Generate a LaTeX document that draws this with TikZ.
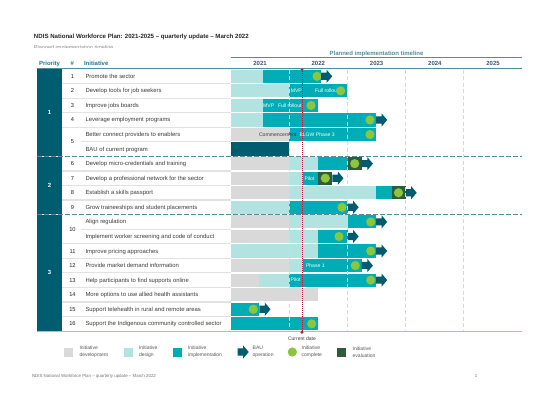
\documentclass[tikz,border=0pt]{standalone}
\usepackage{fontspec}
\setmainfont{Liberation Sans}
\definecolor{devgray}{HTML}{D9D9D9}
\definecolor{desteal}{HTML}{B2E3E1}
\definecolor{impteal}{HTML}{00ACB5}
\definecolor{bauteal}{HTML}{005C6F}
\definecolor{donegreen}{HTML}{8CC63E}
\definecolor{evalgreen}{HTML}{2E5B3A}
\definecolor{headteal}{HTML}{1F7A8C}
\definecolor{lineteal}{HTML}{4F8E9B}
\definecolor{lightline}{HTML}{9FC5CC}
\definecolor{datered}{HTML}{C0173C}
\definecolor{txtgray}{HTML}{3C3C3C}
\definecolor{txtdark}{HTML}{222222}
\definecolor{yeargray}{HTML}{3B5863}
\definecolor{leggray}{HTML}{595959}
\definecolor{sepgray}{HTML}{E2E2E2}
\definecolor{yrline}{HTML}{D8D8D8}
\newcommand\FSz[1]{\fontsize{#1}{#1}\selectfont}
\newcommand\RowY[1]{\pgfmathsetmacro\yc{69+14.56*(#1+0.5)}}
\newcommand\GBar[4]{\RowY{#1}\fill[#4] (#2,\yc-6.6) rectangle (#3,\yc+6.6);}
\newcommand\GDone[2]{\RowY{#1}\fill[donegreen] (#2,\yc) circle (4.6);}
\newcommand\GArrow[2]{\RowY{#1}\pic at (#2,\yc) {bauarrow};}
\newcommand\GEval[2]{\RowY{#1}\fill[evalgreen] (#2,\yc-6.6) rectangle ++(14,13.2);}
\newcommand\GText[4]{\RowY{#1}\node[bartxt,#4] at (#2,\yc+1.8) {#3};}
\tikzset{
  bauarrow/.pic={\fill[bauteal] (0,-3.6) -- (5.6,-3.6) -- (5.6,-6.6) -- (11.2,0) -- (5.6,6.6) -- (5.6,3.6) -- (0,3.6) -- cycle;},
  initxt/.style={anchor=base west, font=\FSz{5.9}, text=txtgray},
  numtxt/.style={anchor=base, font=\FSz{5.7}, text=txtdark},
  bartxt/.style={anchor=base west, font=\FSz{5.1}, text=white},
  hdr/.style={anchor=base west, font=\bfseries\FSz{6}, text=headteal},
  yr/.style={anchor=base, font=\bfseries\FSz{6}, text=yeargray},
  legtxt/.style={anchor=west, align=left, font=\fontsize{5}{6.6}\selectfont, text=leggray},
  prio/.style={anchor=base, font=\bfseries\FSz{6}, text=white},
  sep/.style={sepgray, line width=1.2pt},
  yrdash/.style={yrline, line width=0.8pt, dash pattern=on 4pt off 2.5pt},
  grpdash/.style={lineteal, line width=0.9pt, dash pattern=on 4.5pt off 2.5pt}
}
\begin{document}
\begin{tikzpicture}[x=1pt,y=-1pt, every node/.style={inner sep=0pt, outer sep=0pt}]
\useasboundingbox (0,0) rectangle (560,396);
\fill[white] (0,0) rectangle (560,396);

% title
\node[anchor=base west, font=\bfseries\FSz{6.1}, text=black!85] (title) at (34,38.9)
  {NDIS National Workforce Plan: 2021-2025 \textendash\ quarterly update \textendash\ March 2022};
\begin{scope}
  \clip (30,40) rectangle (140,47.6);
  \node[anchor=base west, font=\FSz{5.5}, text=black!45] (subtitle) at (34,49.6) {Planned implementation timeline};
\end{scope}

% header
\node[anchor=base, font=\bfseries\FSz{6}, text=lineteal] (tlhead) at (376.5,55.4) {Planned implementation timeline};
\draw[lineteal, line width=0.9pt] (230.5,57.5) -- (522,57.5);
\node[hdr] (hprio) at (39,65.3) {Priority};
\node[hdr] (hnum) at (70.5,65.3) {\#};
\node[hdr] (hinit) at (84,65.3) {Initiative};
\foreach \yname/\xc in {2021/260,2022/318.3,2023/376.6,2024/434.9,2025/493}
  \node[yr] (y\yname) at (\xc,65.4) {\yname};
\draw[lineteal, line width=1pt] (37,69) -- (522,69);

% priority blocks
\fill[bauteal] (37,69.5) rectangle (62,156.36);
\fill[bauteal] (37,156.36) rectangle (62,214.6);
\fill[bauteal] (37,214.6) rectangle (62,331);
\node[prio] (p1) at (49.5,114.9) {1};
\node[prio] (p2) at (49.5,187.7) {2};
\node[prio] (p3) at (49.5,274.9) {3};

% row separators in the text columns
\foreach \yy in {83.56,98.12,112.68,127.24,170.92,185.48,200.04,243.72,258.28,272.84,287.4,301.96,316.52}
  \draw[sep] (62,\yy) -- (231,\yy);
\foreach \yy in {141.8,229.16}
  \draw[sep] (81,\yy) -- (231,\yy);

% numbers
\foreach \n/\yy in {1/76.28,2/90.84,3/105.40,4/119.96,5/141.80,6/163.64,7/178.20,8/192.76,9/207.32,10/229.16,11/251.00,12/265.56,13/280.12,14/294.68,15/309.24,16/323.80}
  \node[numtxt] (num\n) at (72.5,\yy+2.0) {\n};

% initiatives
\foreach \k/\t in {0/Promote the sector,1/Develop tools for job seekers,2/Improve jobs boards,3/Leverage employment programs,4/Better connect providers to enablers,5/BAU of current program,6/Develop micro-credentials and training,7/Develop a professional network for the sector,8/Establish a skills passport,9/Grow traineeships and student placements,10/Align regulation,11/Implement worker screening and code of conduct,12/Improve pricing approaches,13/Provide market demand information,14/Help participants to find supports online,15/More options to use allied health assistants,16/Support telehealth in rural and remote areas,17/Support the Indigenous community controlled sector}
  {\pgfmathsetmacro\yc{69+14.56*(\k+0.5)}
   \node[initxt] (ini\k) at (85.5,\yc+2.0) {\t};}

% bars
\GBar{0}{231}{263}{desteal}\GBar{0}{263}{321}{impteal}\GDone{0}{317}\GArrow{0}{321}
\GBar{1}{231}{289}{desteal}\GBar{1}{289}{347}{impteal}
\GText{1}{290.8}{MVP}{}\GText{1}{315}{Full rollout}{}\GDone{1}{340.7}
\GBar{2}{231}{262.7}{desteal}\GBar{2}{262.7}{318.3}{impteal}
\GText{2}{263.2}{MVP}{}\GText{2}{278}{Full rollout}{}\GDone{2}{311}
\GBar{3}{231}{262.7}{desteal}\GBar{3}{262.7}{376}{impteal}\GDone{3}{370}\GArrow{3}{376}
\GBar{4}{231}{289}{devgray}\GBar{4}{289}{376}{impteal}
\GText{4}{259}{Commencement}{text=txtgray}\GText{4}{299.5}{BLGW Phase 3}{}\GDone{4}{370}
\GBar{5}{231}{289}{bauteal}
\GBar{6}{231}{289}{devgray}\GBar{6}{289}{318.3}{desteal}\GBar{6}{318.3}{347.7}{impteal}
\GEval{6}{347.7}\GDone{6}{354.7}\GArrow{6}{361.7}
\GBar{7}{231}{289}{devgray}\GBar{7}{289}{302.7}{desteal}\GBar{7}{302.7}{318.3}{impteal}
\GText{7}{304.5}{Pilot}{}\GEval{7}{318.3}\GDone{7}{325.3}\GArrow{7}{332.3}
\GBar{8}{231}{289}{devgray}\GBar{8}{289}{376}{desteal}\GBar{8}{376}{391.5}{impteal}
\GEval{8}{391.5}\GDone{8}{398.5}\GArrow{8}{405.5}
\GBar{9}{231}{289}{desteal}\GBar{9}{289}{347.5}{impteal}\GDone{9}{342}\GArrow{9}{347.5}
\GBar{10}{231}{289}{devgray}\GBar{10}{289}{347.5}{desteal}\GBar{10}{347.5}{376}{impteal}\GDone{10}{370.7}\GArrow{10}{376}
\GBar{11}{231}{289}{devgray}\GBar{11}{289}{318.3}{desteal}\GBar{11}{318.3}{347.5}{impteal}\GDone{11}{339}\GArrow{11}{347.5}
\GBar{12}{231}{318.3}{desteal}\GBar{12}{318.3}{376}{impteal}\GDone{12}{370.7}\GArrow{12}{376}
\GBar{13}{231}{289}{devgray}\GBar{13}{289}{302.7}{desteal}\GBar{13}{302.7}{361.7}{impteal}
\GText{13}{306}{Phase 1}{}\GDone{13}{355.3}\GArrow{13}{361.7}
\GBar{14}{231}{259.3}{devgray}\GBar{14}{259.3}{289}{desteal}\GBar{14}{289}{376}{impteal}
\GText{14}{290.7}{Pilot}{}\GDone{14}{370.7}\GArrow{14}{376}
\GBar{15}{231}{318.3}{devgray}
\GBar{16}{231}{259.3}{impteal}\GDone{16}{253.3}\GArrow{16}{259.3}
\GBar{17}{231}{318.3}{impteal}\GDone{17}{311.7}

% year dashed lines
\foreach \xx in {289,347.5,405.7,463.8}
  \draw[yrdash] (\xx,69.6) -- (\xx,330.5);

% group separators
\foreach \yy in {156.36,214.6}{
  \draw[white, line width=1.6pt] (37,\yy) -- (522,\yy);
  \draw[grpdash] (37,\yy) -- (522,\yy);}

% bottom line
\draw[lightline, line width=1pt] (37,331.2) -- (522,331.2);

% current date
\draw[datered, line width=1pt, dash pattern=on 1pt off 1pt] (302,69.5) -- (302,331.5);
\fill[datered] (302,69.6) circle (1.4);
\fill[datered] (302,330.4) -- (303.6,332.2) -- (302,334) -- (300.4,332.2) -- cycle;
\node[anchor=base, font=\FSz{5}, text=txtgray] (curdate) at (302,340) {Current date};

% legend
\fill[devgray] (64,347.5) rectangle (73,356.5);
\node[legtxt] (ldev) at (79.5,352) {Initiative\\development};
\fill[desteal] (124,347.5) rectangle (133,356.5);
\node[legtxt] (ldes) at (139,352) {Initiative\\design};
\fill[impteal] (173,347.5) rectangle (182,356.5);
\node[legtxt] (limp) at (188,352) {Initiative\\implementation};
\pic at (237.5,352) {bauarrow};
\node[legtxt] (lbau) at (252.7,352) {BAU\\operation};
\fill[donegreen] (292.3,352) circle (4.6);
\node[legtxt] (ldone) at (301.7,352) {Initiative\\complete};
\fill[evalgreen] (336.7,347.5) rectangle (345.7,356.5);
\node[legtxt] (leval) at (352.7,352) {Initiative\\evaluation};

% footer
\node[anchor=base west, font=\FSz{4.4}, text=black!55] (footer) at (32,377.5)
  {NDIS National Workforce Plan \textendash\ quarterly update \textendash\ March 2022};
\node[anchor=base, font=\FSz{4.4}, text=black!55] (pageno) at (476,377.5) {1};
\end{tikzpicture}
\end{document}
